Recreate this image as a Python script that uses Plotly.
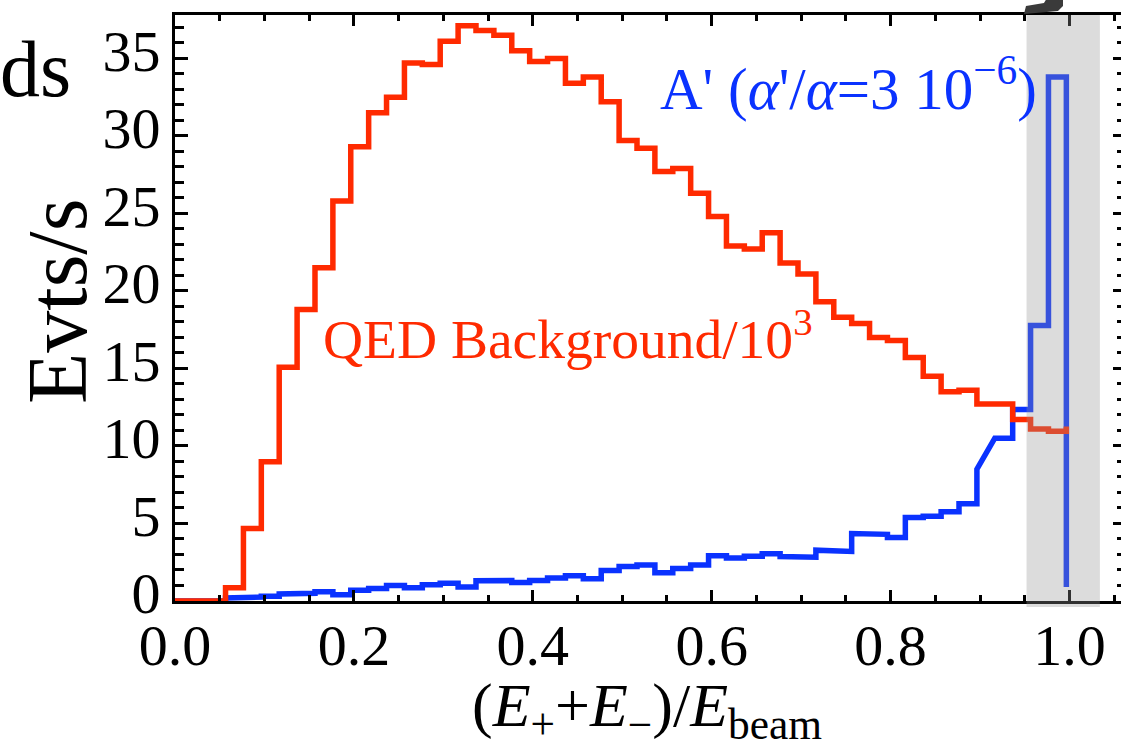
import plotly.graph_objects as go

# ---------------- data ----------------
bin_width = 0.02
bin_offset = -0.0035
n_bins = 50

qed_bg = [0, 0, 0, 0.85, 4.68, 8.98, 15.08, 18.8, 21.5, 25.8,
          29.3, 31.5, 32.5, 34.7, 34.6, 36.1, 37.1, 36.8, 36.5, 35.5,
          34.8, 35.0, 33.4, 33.8, 32.2, 29.7, 29.2, 27.7, 27.9, 26.3,
          24.8, 22.9, 22.7, 23.75, 21.8, 21.1, 19.3, 18.3, 17.9, 17.0,
          16.8, 15.7, 14.5, 13.5, 13.6, 12.7, 12.7, 11.7, 11.1, 10.95]
qed_tail = 11.25

aprime = [0, 0, 0, 0.2, 0.25, 0.3, 0.45, 0.5, 0.6, 0.4,
          0.7, 0.8, 1.0, 0.85, 1.05, 1.15, 0.9, 1.3, 1.32, 1.2,
          1.32, 1.48, 1.63, 1.44, 1.97, 2.22, 2.33, 1.82, 2.1, 2.33,
          2.92, 2.77, 2.89, 3.05, 2.87, 2.82, 3.28, 3.2, 4.35, 4.3,
          4.1, 5.38, 5.47, 5.75, 6.27, 8.5, 10.5, 12.35, 17.77, 33.8]
aprime_ramp = {45: (8.5, 10.5)}
aprime_tail = 0.9

x_ticks = [0.0, 0.2, 0.4, 0.6, 0.8, 1.0]
x_ticktext = ["0.0", "0.2", "0.4", "0.6", "0.8", "1.0"]
y_ticks = [0, 5, 10, 15, 20, 25, 30, 35]

shade_x = [0.952, 1.034]

x_range = [0, 1.0576]
y_range = [0, 37.8]

RED = "#ff2a00"
BLUE = "#0a32ff"
FONT = "Liberation Serif"

# ---------------- helpers ----------------
edges = [max(0.0, i * bin_width + bin_offset) for i in range(n_bins + 1)]


def step_path(vals, ramp, tail):
    xs, ys = [], []
    for i, v in enumerate(vals):
        a, b = ramp.get(i, (v, v))
        xs += [edges[i], edges[i + 1]]
        ys += [a, b]
    xs.append(edges[-1])
    ys.append(tail)
    return xs, ys


W, H = 1121, 746
L, R, T, B = 175, 1121, 15, 601


def px(xp):
    return (xp - L) / (R - L)


def py(yp):
    return (B - yp) / (B - T)


bx, by = step_path(aprime, aprime_ramp, aprime_tail)
rx, ry = step_path(qed_bg, {}, qed_tail)

fig = go.Figure()
fig.add_trace(go.Scatter(x=bx, y=by, mode="lines",
                         line=dict(color=BLUE, width=5.5), hoverinfo="skip",
                         showlegend=False))
fig.add_trace(go.Scatter(x=rx, y=ry, mode="lines",
                         line=dict(color=RED, width=5.5), hoverinfo="skip",
                         showlegend=False))
# helper trace for the mirrored axes
fig.add_trace(go.Scatter(x=[], y=[], xaxis="x2", yaxis="y2", showlegend=False))

tickfont = dict(family=FONT, size=58, color="black")

fig.update_layout(
    width=W, height=H,
    margin=dict(l=L, r=W - R, t=T, b=H - B, pad=0),
    paper_bgcolor="white", plot_bgcolor="white",
    showlegend=False,
    xaxis=dict(range=x_range, tickvals=x_ticks, ticktext=x_ticktext,
               ticks="inside", ticklen=11, tickwidth=3, tickcolor="black",
               showline=True, linewidth=3, linecolor="black",
               showgrid=False, zeroline=False, tickfont=tickfont,
               ticklabelstandoff=-9,
               minor=dict(dtick=0.05, tick0=0, ticks="inside", ticklen=6,
                          tickwidth=3, tickcolor="black", showgrid=False)),
    xaxis2=dict(range=x_range, overlaying="x", side="top",
                tickvals=x_ticks, showticklabels=False,
                ticks="inside", ticklen=11, tickwidth=3, tickcolor="black",
                showline=True, linewidth=3, linecolor="black",
                showgrid=False, zeroline=False,
                minor=dict(dtick=0.05, tick0=0, ticks="inside", ticklen=6,
                           tickwidth=3, tickcolor="black", showgrid=False)),
    yaxis=dict(range=y_range, tickvals=y_ticks,
               ticks="inside", ticklen=13, tickwidth=3, tickcolor="black",
               showline=True, linewidth=3, linecolor="black",
               showgrid=False, zeroline=False, tickfont=tickfont,
               ticklabelshift=-8,
               minor=dict(dtick=1, tick0=0, ticks="inside", ticklen=9,
                          tickwidth=3, tickcolor="black", showgrid=False)),
    yaxis2=dict(range=y_range, overlaying="y", side="right", anchor="x",
                tickvals=y_ticks, showticklabels=False,
                ticks="inside", ticklen=8, tickwidth=3, tickcolor="black",
                showline=False, showgrid=False, zeroline=False,
                minor=dict(dtick=1, tick0=0, ticks="inside", ticklen=4,
                           tickwidth=3, tickcolor="black", showgrid=False)),
)

# shaded window (drawn above the curves, semi-transparent)
fig.add_shape(type="rect", xref="paper", yref="paper",
              x0=shade_x[0] / x_range[1], x1=shade_x[1] / x_range[1],
              y0=py(607), y1=1.0, layer="above",
              fillcolor="rgba(150,150,150,0.33)", line=dict(width=0))

# dark fragment of an arrow at the top (cropped from a larger figure)
pts = [(1024, 14), (1026, 6), (1044, 3), (1047, -2), (1063, -2), (1063, 6),
       (1058, 11)]
path = "M " + " L ".join(f"{px(a):.5f},{py(b):.5f}" for a, b in pts) + " Z"
fig.add_shape(type="path", xref="paper", yref="paper", path=path,
              fillcolor="#3a3a3a", line=dict(width=0), layer="above")

# texts
fig.add_annotation(xref="x", yref="y", x=0.1635, y=14.8,
                   xanchor="left", yanchor="bottom", showarrow=False,
                   text="QED Background/10<sup>3</sup>",
                   font=dict(family=FONT, size=55.5, color=RED))
fig.add_annotation(xref="x", yref="y", x=0.540, y=30.8,
                   xanchor="left", yanchor="bottom", showarrow=False,
                   text="A' (<i>α</i>'/<i>α</i>=3 10<sup>−6</sup>)",
                   font=dict(family=FONT, size=59, color=BLUE))
fig.add_annotation(xref="paper", yref="paper", x=px(-2), y=py(115),
                   xanchor="left", yanchor="bottom", showarrow=False,
                   text="ds", font=dict(family=FONT, size=80, color="black"))
fig.add_annotation(xref="paper", yref="paper", x=px(57), y=py(302),
                   xanchor="center", yanchor="middle", showarrow=False,
                   textangle=-90, text="Evts/s",
                   font=dict(family=FONT, size=84, color="black"))
fig.add_annotation(xref="paper", yref="paper", x=px(647), y=py(709),
                   xanchor="center", yanchor="middle", showarrow=False,
                   text="(<i>E</i><sub>+</sub>+<i>E</i><sub>−</sub>)/<i>E</i><sub>beam</sub>",
                   font=dict(family=FONT, size=62, color="black"))

fig.write_html("out.html", config={"displayModeBar": False},
               post_script="document.body.style.margin='0';document.body.style.overflow='hidden';")
